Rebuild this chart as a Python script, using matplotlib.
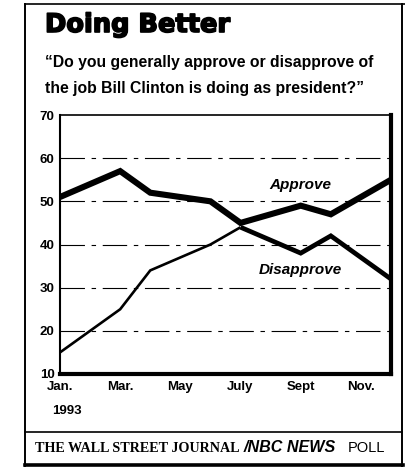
import matplotlib
matplotlib.use("Agg")
import matplotlib.pyplot as plt
from matplotlib.lines import Line2D
import matplotlib.patheffects as pe

# ---- data ----
month_names = ['Jan', 'Feb', 'Mar', 'Apr', 'May', 'Jun', 'Jul', 'Aug', 'Sep', 'Oct', 'Nov', 'Dec']
poll_months = ['Jan', 'Mar', 'Apr', 'Jun', 'Jul', 'Sep', 'Oct', 'Dec']
approve = [51, 57, 52, 50, 45, 49, 47, 55]
disapprove = [15, 25, 34, 40, 44, 38, 42, 32]
tick_months = ['Jan', 'Mar', 'May', 'Jul', 'Sep', 'Nov']
tick_labels = ['Jan.', 'Mar.', 'May', 'July', 'Sept', 'Nov.']
y_ticks = [10, 20, 30, 40, 50, 60, 70]
grid_values = [20, 30, 40, 50, 60]

SANS = 'Liberation Sans'

W, H = 406, 474
fig = plt.figure(figsize=(W / 100, H / 100), dpi=100)
fig.patch.set_facecolor('white')

def fx(x):
    return x / W

def fy(y):
    return 1 - y / H

left, right, top, bottom = 60, 391, 115, 374
ax = fig.add_axes([fx(left), fy(bottom), (right - left) / W, (bottom - top) / H])

xpos = [month_names.index(m) for m in poll_months]
split = poll_months.index('Jul')

for g in grid_values:
    ax.axhline(g, color='black', lw=0.8, linestyle=(0, (22, 6, 4, 6)), zorder=1)

ax.plot(xpos, approve, color='black', lw=4.4, solid_joinstyle='miter', solid_capstyle='butt', zorder=4)
ax.plot(xpos[:split + 1], disapprove[:split + 1], color='black', lw=1.9,
        solid_joinstyle='miter', solid_capstyle='butt', zorder=3)
ax.plot(xpos[split:], disapprove[split:], color='black', lw=3.4,
        solid_joinstyle='miter', solid_capstyle='butt', zorder=3)

ax.set_xlim(0, 11)
ax.set_ylim(10, 70)
ax.set_yticks(y_ticks)
ax.set_yticklabels([str(v) for v in y_ticks], fontsize=9.5, fontweight='bold', family=SANS)
ax.set_xticks([month_names.index(m) for m in tick_months])
ax.set_xticklabels(tick_labels, fontsize=9.5, fontweight='bold', family=SANS)
ax.tick_params(length=0, pad=4)
ax.tick_params(axis='x', pad=5)

for side, lw in [('left', 1.5), ('top', 1.2), ('right', 3.0), ('bottom', 3.0)]:
    ax.spines[side].set_linewidth(lw)
    ax.spines[side].set_color('black')

ax.text(8, 53.7, 'Approve', ha='center', va='center', fontsize=11,
        fontweight='bold', style='italic', family=SANS, zorder=5)
ax.text(8, 34, 'Disapprove', ha='center', va='center', fontsize=11,
        fontweight='bold', style='italic', family=SANS, zorder=5)

fig.text(fx(67), fy(411), '1993', ha='center', va='center', fontsize=9.5,
         fontweight='bold', family=SANS)

# Title and subtitle
fig.text(fx(45), fy(25), 'Doing Better', ha='left', va='center', fontsize=18.5,
         fontweight='heavy', family='DejaVu Sans',
         path_effects=[pe.withStroke(linewidth=1.2, foreground='black')])
fig.text(fx(45), fy(62), '\u201cDo you generally approve or disapprove of', ha='left',
         va='center', fontsize=11.3, fontweight='bold', family=SANS)
fig.text(fx(45), fy(88), 'the job Bill Clinton is doing as president?\u201d', ha='left',
         va='center', fontsize=11.3, fontweight='bold', family=SANS)

# Outer frame
def hline(x0, x1, y, lw):
    fig.add_artist(Line2D([fx(x0), fx(x1)], [fy(y), fy(y)], color='black', lw=lw,
                          transform=fig.transFigure))

def vline(x, y0, y1, lw):
    fig.add_artist(Line2D([fx(x), fx(x)], [fy(y0), fy(y1)], color='black', lw=lw,
                          transform=fig.transFigure))

vline(25, 4, 466, 1.4)
hline(25, 406, 4, 1.2)
vline(402, 4, 466, 1.4)
hline(25, 402, 432, 1.2)
hline(25, 403, 465, 2.6)

# Footer
fig.text(fx(35), fy(448), 'THE WALL STREET JOURNAL', ha='left', va='center', fontsize=10.2,
         fontweight='bold', family='Liberation Serif')
fig.text(fx(244), fy(448), '/NBC NEWS', ha='left', va='center', fontsize=11.6,
         fontweight='bold', style='italic', family=SANS)
fig.text(fx(348), fy(448), 'POLL', ha='left', va='center', fontsize=10.5,
         family=SANS)

fig.savefig('out.png', dpi=100)
